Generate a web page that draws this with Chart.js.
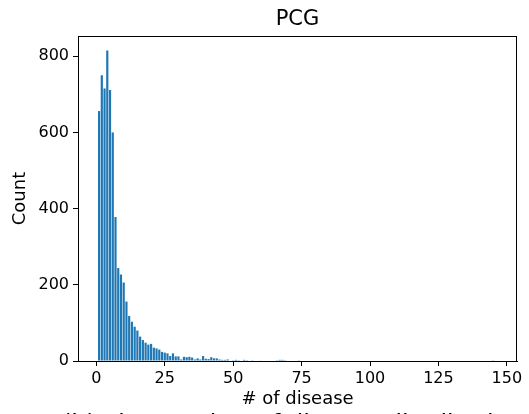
<!DOCTYPE html>
<html>
<head>
<meta charset="utf-8">
<script src="https://cdn.jsdelivr.net/npm/chart.js@4.4.0/dist/chart.umd.min.js"></script>
<style>
  body { margin: 0; background: #fff; }
  #chart { display: block; }
</style>
</head>
<body>
<canvas id="chart" width="529" height="414"></canvas>
<script>
// number of diseases per item (x) and how many items have it (y)
const numDisease = [
  1, 2, 3, 4, 5, 6, 7, 8, 9, 10,
  11, 12, 13, 14, 15, 16, 17, 18, 19, 20,
  21, 22, 23, 24, 25, 26, 27, 28, 29, 30,
  31, 32, 33, 34, 35, 36, 37, 38, 39, 40,
  41, 42, 43, 44, 45, 46, 47, 48, 50, 51,
  52, 54, 55, 57, 60, 66, 67, 68, 69, 74, 145
];
const counts = [
  656, 750, 715, 815, 711, 600, 378, 244, 227, 206,
  156, 118, 103, 90, 80, 64, 55, 48, 43, 45,
  35, 33, 30, 24, 22, 20, 13, 20, 12, 12,
  4, 11, 10, 11, 9, 4, 7, 4, 13, 6,
  5, 10, 7, 7, 4, 3, 3, 4, 2, 3,
  2, 3, 2, 2, 1, 2, 3, 3, 2, 2, 2
];
const xTicks = [0, 25, 50, 75, 100, 125, 150];
const yTicks = [0, 200, 400, 600, 800];

const FONT = "'DejaVu Sans', sans-serif";

// box around the axes + title and axis labels
const textPlugin = {
  id: "texts",
  afterDraw(chart) {
    const ctx = chart.ctx;
    const a = chart.chartArea;
    ctx.save();
    ctx.strokeStyle = "#000";
    ctx.lineWidth = 1;
    ctx.strokeRect(a.left + 0.5, a.top + 0.5, a.right - a.left - 1, a.bottom - a.top);
    ctx.fillStyle = "#000";
    ctx.textAlign = "center";
    ctx.textBaseline = "middle";
    ctx.font = "21px " + FONT;
    ctx.fillText("PCG", (a.left + a.right) / 2, 20);
    ctx.font = "18px " + FONT;
    ctx.fillText("# of disease", (a.left + a.right) / 2, 399);
    ctx.save();
    ctx.translate(20, (a.top + a.bottom) / 2);
    ctx.rotate(-Math.PI / 2);
    ctx.fillText("Count", 0, 0);
    ctx.restore();
    // caption of the figure, cut off at the bottom edge
    ctx.textAlign = "left";
    ctx.textBaseline = "alphabetic";
    ctx.font = "24px " + FONT;
    ctx.fillText("(b) The number of disease distribution", 62, 432);
    ctx.restore();
  }
};

new Chart(document.getElementById("chart"), {
  type: "bar",
  plugins: [textPlugin],
  data: {
    datasets: [{
      data: numDisease.map((d, i) => ({ x: d, y: counts[i] })),
      backgroundColor: "#1f77b4",
      borderWidth: 0,
      barPercentage: 0.8,
      categoryPercentage: 1.0
    }]
  },
  options: {
    responsive: false,
    animation: false,
    layout: { padding: { left: 0, right: 12, top: 36, bottom: 0 } },
    plugins: { legend: { display: false }, tooltip: { enabled: false }, title: { display: false } },
    scales: {
      x: {
        type: "linear",
        min: -6.7,
        max: 153.7,
        offset: false,
        afterBuildTicks: (s) => { s.ticks = xTicks.map(v => ({ value: v })); },
        afterFit: (s) => { s.height = 53; },
        ticks: { color: "#000", font: { family: FONT, size: 16 }, padding: 3, maxRotation: 0 },
        grid: { drawOnChartArea: false, drawTicks: true, tickLength: 5, color: "#000", offset: false },
        border: { display: true, color: "#000" }
      },
      y: {
        min: 0,
        max: 853,
        afterBuildTicks: (s) => { s.ticks = yTicks.map(v => ({ value: v })); },
        afterFit: (s) => { s.width = 78; },
        ticks: { color: "#000", font: { family: FONT, size: 16 }, padding: 4 },
        grid: { drawOnChartArea: false, drawTicks: true, tickLength: 5, color: "#000" },
        border: { display: true, color: "#000" }
      }
    }
  }
});
</script>
</body>
</html>
